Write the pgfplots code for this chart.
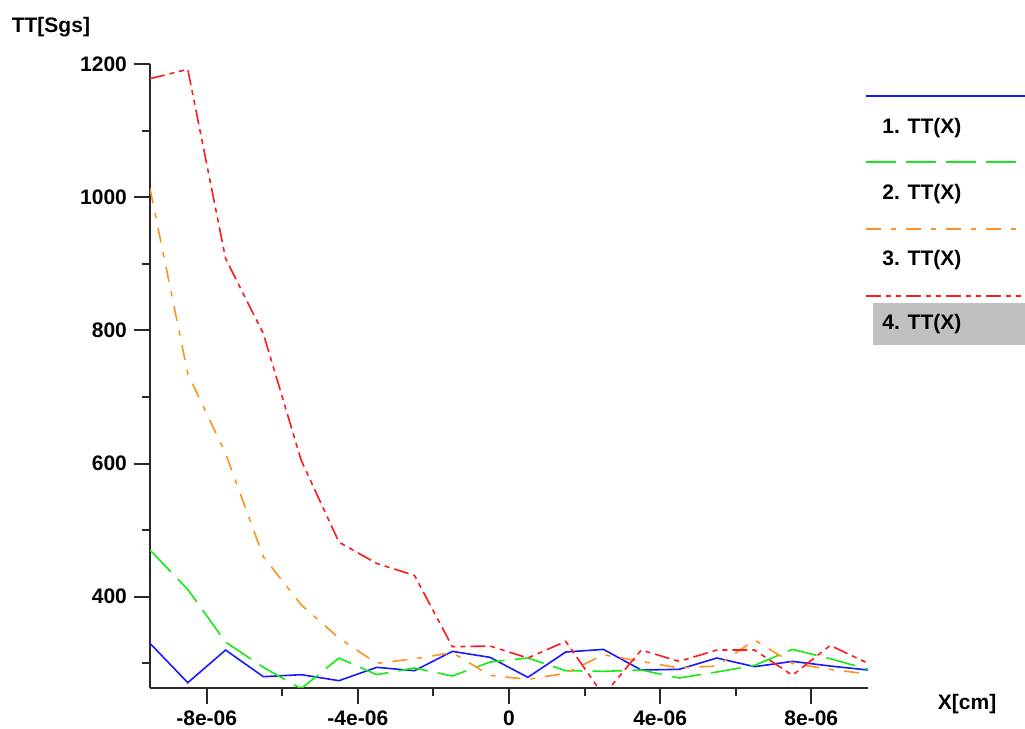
\documentclass[border=0pt]{standalone}
\usepackage{pgfplots}
\pgfplotsset{compat=1.18}
\usepackage{fontspec}
\setmainfont{Liberation Sans}

\definecolor{cblue}{RGB}{25,25,255}
\definecolor{cgreen}{RGB}{20,235,20}
\definecolor{corange}{RGB}{255,145,30}
\definecolor{cred}{RGB}{255,25,25}
\definecolor{axgray}{RGB}{40,40,40}
\definecolor{selgray}{RGB}{192,192,192}

\tikzset{
  s1/.style={cblue,line width=0.8pt},
  s2/.style={cgreen,line width=0.8pt,dash pattern=on 15pt off 5pt},
  s3/.style={corange,line width=0.8pt,dash pattern=on 7.5pt off 5pt on 2.5pt off 5pt},
  s4/.style={cred,line width=0.8pt,dash pattern=on 7.5pt off 2.5pt on 2.5pt off 2.5pt on 2.5pt off 2.5pt},
}

\begin{document}
\begin{tikzpicture}[x=1pt,y=1pt]
\useasboundingbox (0,0) rectangle (512.5,364.5);
\begin{axis}[
  at={(75pt,20.5pt)}, anchor=south west,
  scale only axis, width=359pt, height=312pt,
  xmin=-9.5e-6, xmax=9.5e-6, ymin=263, ymax=1200,
  axis x line*=bottom, axis y line*=left,
  axis line style={axgray,line width=1pt,-},
  every tick/.style={axgray,line width=1pt},
  tick align=outside,
  major tick length=8pt, minor tick length=4pt,
  xtick={-8e-6,-4e-6,0,4e-6,8e-6},
  xticklabels={-8e-06,-4e-06,0,4e-06,8e-06},
  minor xtick={-6e-6,-2e-6,2e-6,6e-6},
  ytick={400,600,800,1000,1200},
  yticklabels={400,600,800,1000,1200},
  minor ytick={300,500,700,900,1100},
  scaled x ticks=false, scaled y ticks=false,
  tick label style={font=\fontsize{10.5}{12}\selectfont\bfseries,black},
  xlabel={X[cm]}, ylabel={TT[Sgs]},
  every axis x label/.style={at={(axis description cs:1.138,-0.0256)},anchor=center,
    font=\fontsize{10.5}{12}\selectfont\bfseries},
  every axis y label/.style={at={(axis description cs:-0.138,1.059)},anchor=center,
    font=\fontsize{10.5}{12}\selectfont\bfseries},
]
\addplot[s1] coordinates {
  (-9.5e-6,330) (-8.5e-6,271) (-7.5e-6,320) (-6.5e-6,280) (-5.5e-6,283)
  (-4.5e-6,274) (-3.5e-6,294) (-2.5e-6,289) (-1.5e-6,318) (-0.5e-6,309)
  (0.5e-6,279) (1.5e-6,317) (2.5e-6,321) (3.5e-6,290) (4.5e-6,291)
  (5.5e-6,308) (6.5e-6,295) (7.5e-6,303) (8.5e-6,296) (9.5e-6,290)
};
\addplot[s2] coordinates {
  (-9.5e-6,470) (-8.5e-6,411) (-7.5e-6,332) (-6.5e-6,294) (-5.5e-6,262)
  (-4.5e-6,308) (-3.5e-6,283) (-2.5e-6,293) (-1.5e-6,281) (-0.5e-6,302)
  (0.5e-6,308) (1.5e-6,289) (2.5e-6,288) (3.5e-6,290) (4.5e-6,278)
  (5.5e-6,287) (6.5e-6,297) (7.5e-6,321) (8.5e-6,307) (9.5e-6,291)
};
\addplot[s3] coordinates {
  (-9.5e-6,1013) (-8.5e-6,735) (-7.5e-6,615) (-6.5e-6,460) (-5.5e-6,388)
  (-4.5e-6,338) (-3.5e-6,300) (-2.5e-6,307) (-1.5e-6,316) (-0.5e-6,282)
  (0.5e-6,276) (1.5e-6,285) (2.5e-6,313) (3.5e-6,303) (4.5e-6,293)
  (5.5e-6,296) (6.5e-6,335) (7.5e-6,300) (8.5e-6,291) (9.5e-6,284)
};
\addplot[s4] coordinates {
  (-9.5e-6,1178) (-8.5e-6,1192) (-7.5e-6,908) (-6.5e-6,795) (-5.5e-6,605)
  (-4.5e-6,482) (-3.5e-6,450) (-2.5e-6,432) (-1.5e-6,325) (-0.5e-6,326)
  (0.5e-6,308) (1.5e-6,333) (2.5e-6,252) (3.5e-6,320) (4.5e-6,303)
  (5.5e-6,320) (6.5e-6,320) (7.5e-6,282) (8.5e-6,327) (9.5e-6,300)
};
\end{axis}
% legend panel
\fill[selgray] (436.5,192) rectangle (512.5,213);
\draw[s1] (433,316.5) -- (512.5,316.5);
\draw[s2] (433,283.5) -- (512.5,283.5);
\draw[s3] (433,250) -- (512.5,250);
\draw[s4] (433,216.5) -- (512.5,216.5);
\begin{scope}[every node/.style={anchor=west,inner sep=0pt,font=\fontsize{10.5}{12}\selectfont\bfseries}]
\node at (441,300.5) {1. TT(X)};
\node at (441,267.5) {2. TT(X)};
\node at (441,234.5) {3. TT(X)};
\node at (441,202.5) {4. TT(X)};
\end{scope}
\end{tikzpicture}
\end{document}
